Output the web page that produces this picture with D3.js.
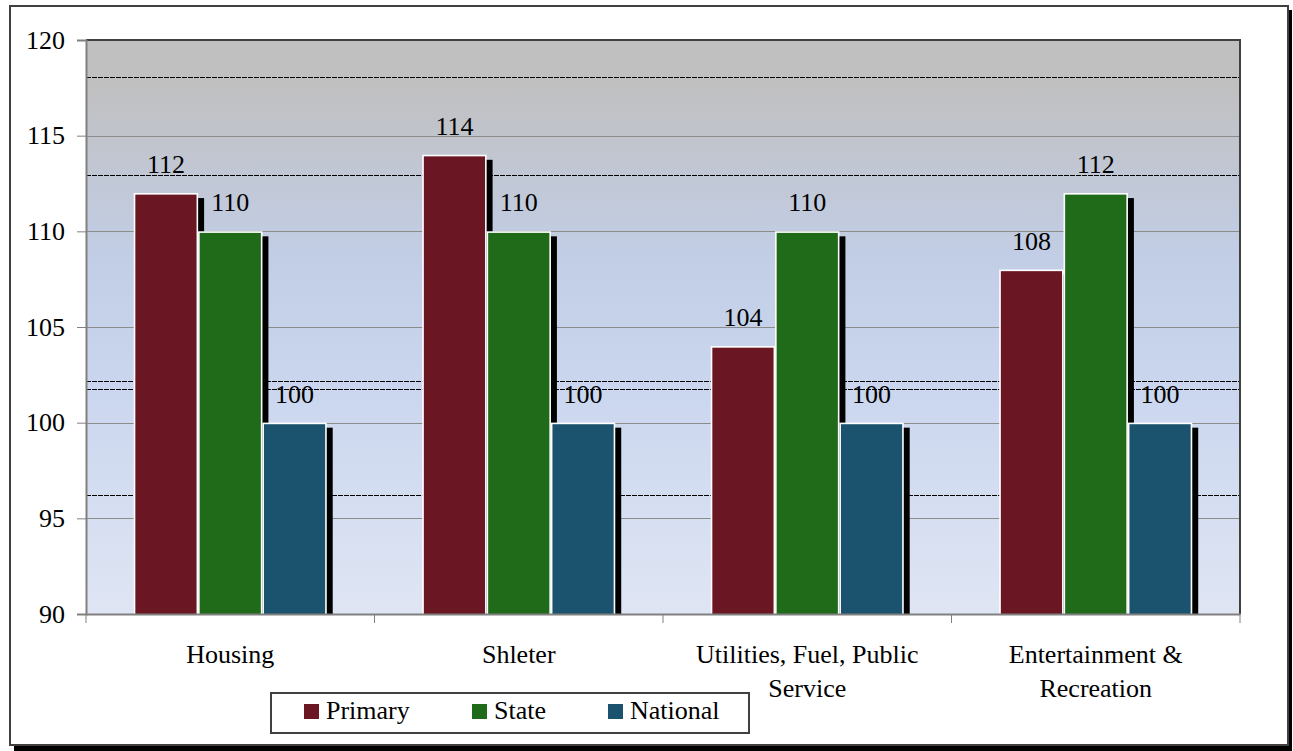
<!DOCTYPE html>
<html>
<head>
<meta charset="utf-8">
<script src="https://cdn.jsdelivr.net/npm/d3@7"></script>
<style>
  html, body { margin: 0; padding: 0; background: #ffffff; }
  svg { display: block; }
  text { font-family: "Liberation Serif", "Times New Roman", serif; fill: #000; }
</style>
</head>
<body>
<svg id="chart" width="1293" height="751"></svg>
<script>
// ---- data ----
const categories = ["Housing", "Shleter", "Utilities, Fuel, Public Service", "Entertainment & Recreation"];
const seriesNames = ["Primary", "State", "National"];
const primaryValues = [112, 114, 104, 108];
const stateValues = [110, 110, 110, 112];
const nationalValues = [100, 100, 100, 100];
const yTicks = [90, 95, 100, 105, 110, 115, 120];
const strayLineValues = [118.05, 112.94, 102.19, 101.74, 96.2];

const seriesColors = {Primary: "#6b1723", State: "#1f6b1a", National: "#1b526d"};
const seriesValues = {Primary: primaryValues, State: stateValues, National: nationalValues};

const svg = d3.select("#chart");
const plot = {left: 86, top: 40, right: 1240, bottom: 614};
const fontSize = 26;
const serif = '"Liberation Serif", "Times New Roman", serif';

// ---- outer frame with shadow ----
svg.append("rect").attr("x", 14).attr("y", 10).attr("width", 1278).attr("height", 741).attr("fill", "#000");
svg.append("rect").attr("x", 10).attr("y", 6).attr("width", 1278).attr("height", 739)
  .attr("fill", "#fff").attr("stroke", "#404040").attr("stroke-width", 2);

// ---- scales ----
const x0 = d3.scaleBand().domain(categories).range([plot.left, plot.right]).paddingInner(0).paddingOuter(0);
const x1 = d3.scaleBand().domain(seriesNames).range([0, x0.bandwidth()]).paddingInner(0).paddingOuter(0.743);
const y = d3.scaleLinear().domain([90, 120]).range([plot.bottom, plot.top]);

// ---- background gradient ----
const defs = svg.append("defs");
const grad = defs.append("linearGradient").attr("id", "bg").attr("x1", 0).attr("y1", 0).attr("x2", 0).attr("y2", 1);
[[0, "#c0c0c0"], [0.08, "#c0c0c1"], [0.38, "#c2cee6"], [0.62, "#cbd7ef"], [1, "#dfe5f3"]]
  .forEach(([o, c]) => grad.append("stop").attr("offset", o).attr("stop-color", c));
defs.append("clipPath").attr("id", "plotclip").append("rect")
  .attr("x", plot.left).attr("y", plot.top).attr("width", plot.right - plot.left).attr("height", plot.bottom - plot.top);

svg.append("rect").attr("x", plot.left).attr("y", plot.top)
  .attr("width", plot.right - plot.left).attr("height", plot.bottom - plot.top)
  .attr("fill", "url(#bg)");

// gridlines
svg.append("g").selectAll("line").data(yTicks.filter(t => t > 90 && t < 120)).join("line")
  .attr("x1", plot.left).attr("x2", plot.right)
  .attr("y1", d => Math.round(y(d)) + 0.5).attr("y2", d => Math.round(y(d)) + 0.5)
  .attr("stroke", "#8c8c8c").attr("stroke-width", 1.2);

// stray dark lines
svg.append("g").selectAll("line").data(strayLineValues).join("line")
  .attr("x1", plot.left).attr("x2", plot.right)
  .attr("y1", d => Math.round(y(d)) + 0.5).attr("y2", d => Math.round(y(d)) + 0.5)
  .attr("stroke", "#000").attr("stroke-width", 1.1).attr("stroke-dasharray", "5,1");

// ---- bars ----
const barData = [];
categories.forEach((c, i) => seriesNames.forEach(s => barData.push({cat: c, s, v: seriesValues[s][i]})));

const barsG = svg.append("g").attr("clip-path", "url(#plotclip)");
barsG.selectAll("rect.shadow").data(barData).join("rect").attr("class", "shadow")
  .attr("x", d => x0(d.cat) + x1(d.s) + 6)
  .attr("y", d => y(d.v) + 5)
  .attr("width", x1.bandwidth())
  .attr("height", d => plot.bottom - y(d.v))
  .attr("fill", "#000");
barsG.selectAll("rect.bar").data(barData).join("rect").attr("class", "bar")
  .attr("x", d => x0(d.cat) + x1(d.s) + 0.75)
  .attr("y", d => y(d.v) + 0.75)
  .attr("width", x1.bandwidth() - 1.5)
  .attr("height", d => plot.bottom - y(d.v) + 2)
  .attr("fill", d => seriesColors[d.s])
  .attr("stroke", "#fff").attr("stroke-width", 1.6);

// value labels
svg.append("g").selectAll("text").data(barData).join("text")
  .attr("x", d => x0(d.cat) + x1(d.s) + x1.bandwidth() / 2)
  .attr("y", d => y(d.v) - 20)
  .attr("text-anchor", "middle")
  .attr("font-family", serif)
  .attr("font-size", fontSize)
  .text(d => d.v);

// ---- plot border ----
svg.append("line").attr("x1", plot.left).attr("x2", plot.right + 1).attr("y1", plot.top).attr("y2", plot.top)
  .attr("stroke", "#404040").attr("stroke-width", 2);
svg.append("line").attr("x1", plot.right).attr("x2", plot.right).attr("y1", plot.top).attr("y2", plot.bottom)
  .attr("stroke", "#404040").attr("stroke-width", 2);

// ---- y axis ----
const yAxis = svg.append("g").attr("transform", `translate(${plot.left},0)`)
  .call(d3.axisLeft(y).tickValues(yTicks).tickSize(9).tickPadding(12).tickFormat(d3.format("d")));
yAxis.attr("font-family", serif);
yAxis.select(".domain").attr("stroke", "#808080").attr("stroke-width", 2);
yAxis.selectAll(".tick line").attr("stroke", "#808080").attr("stroke-width", 1);
yAxis.selectAll(".tick text").attr("font-size", fontSize).attr("font-family", serif).attr("fill", "#000");

// ---- x axis ----
const xAxis = svg.append("g").attr("transform", `translate(0,${plot.bottom})`)
  .call(d3.axisBottom(x0).tickSize(0).tickPadding(0));
xAxis.attr("font-family", serif);
xAxis.select(".domain").attr("stroke", "#808080").attr("stroke-width", 2);
const boundaries = categories.map(c => x0(c)).concat([x0(categories[categories.length - 1]) + x0.bandwidth()]);
xAxis.selectAll("line.bound").data(boundaries).join("line").attr("class", "bound")
  .attr("x1", d => d).attr("x2", d => d).attr("y1", 0).attr("y2", 9)
  .attr("stroke", "#808080").attr("stroke-width", 1);

xAxis.selectAll(".tick text").each(function(d) {
  const t = d3.select(this);
  t.text(null).attr("font-size", fontSize).attr("y", 0).attr("dy", null)
    .attr("font-family", serif).attr("fill", "#000");
  const words = d.split(" ");
  const maxW = 240;
  let lines = [], line = [];
  const probe = t.append("tspan");
  words.forEach(w => {
    line.push(w);
    probe.text(line.join(" "));
    if (probe.node().getComputedTextLength() > maxW && line.length > 1) {
      line.pop();
      lines.push(line.join(" "));
      line = [w];
    }
  });
  lines.push(line.join(" "));
  probe.remove();
  lines.forEach((l, i) => t.append("tspan").attr("x", 0).attr("y", 49 + i * 34).text(l));
});

// ---- legend ----
const legend = svg.append("g");
legend.append("rect").attr("x", 271).attr("y", 693).attr("width", 478).attr("height", 40)
  .attr("fill", "#fff").attr("stroke", "#404040").attr("stroke-width", 2);
const legendX = [304, 472, 608];
const items = legend.selectAll("g.item").data(seriesNames).join("g").attr("class", "item")
  .attr("transform", (d, i) => `translate(${legendX[i]},704)`);
items.append("rect").attr("width", 15).attr("height", 15).attr("fill", d => seriesColors[d]);
items.append("text").attr("x", 22).attr("y", 15).attr("font-family", serif).attr("font-size", fontSize).text(d => d);
</script>
</body>
</html>
